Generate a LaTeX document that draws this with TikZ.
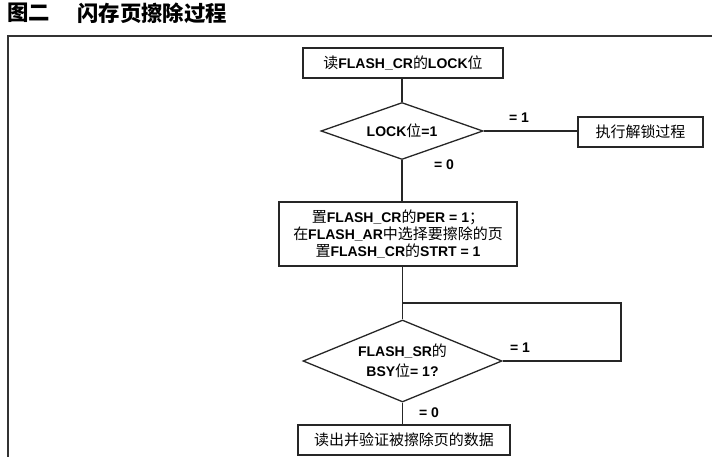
\documentclass[tikz,border=0pt]{standalone}
\usepackage{fontspec}
\setmainfont{Liberation Sans}
\newfontfamily\cjk{Noto Sans CJK SC}[Scale=1.07]
\newcommand\zh[1]{{\cjk\mdseries #1}}
\usetikzlibrary{shapes.geometric}
\begin{document}
\begin{tikzpicture}[x=1pt,y=-1pt,
  every node/.style={font=\fontsize{14}{18}\selectfont\bfseries},
  line/.style={line width=1.3pt, draw=black!85},
  stepbox/.style={draw=black!85, line width=1.3pt, rectangle, inner sep=0pt, align=center},
  decide/.style={draw=black!85, line width=1.3pt, diamond, inner sep=0pt, align=center},
  lbl/.style={inner sep=0pt}]
\useasboundingbox (0,0) rectangle (712,457);
% frame
\draw[line width=2pt, draw=black!80] (8,460) -- (8,36) -- (714,36);
% title
\node[anchor=west, inner sep=0pt, font=\fontsize{20}{22}\selectfont\bfseries] (t1) at (7,13) {{\cjk\bfseries 图二}};
\node[anchor=west, inner sep=0pt, font=\fontsize{20}{22}\selectfont\bfseries] (t2) at (77,13) {{\cjk\bfseries 闪存页擦除过程}};
% nodes
\node[stepbox, minimum width=200pt, minimum height=30pt] (b1) at (403,63) {\zh{读}FLASH\_CR\zh{的}LOCK\zh{位}};
\node[decide, minimum width=162pt, minimum height=57pt, aspect=2.84] (d1) at (402,131) {LOCK\zh{位}=1};
\node[stepbox, minimum width=125pt, minimum height=30pt] (b2) at (640.5,132) {\zh{执行解锁过程}};
\node[stepbox, minimum width=238pt, minimum height=64pt] (b3) at (398,234) {\zh{置}FLASH\_CR\zh{的}PER = 1\zh{；}\\[-1pt] \zh{在}FLASH\_AR\zh{中选择要擦除的页}\\[-1pt] \zh{置}FLASH\_CR\zh{的}STRT = 1};
\node[decide, minimum width=199pt, minimum height=82pt, aspect=2.43] (d2) at (402.5,361) {FLASH\_SR\zh{的}\\[2pt] BSY\zh{位}= 1?};
\node[stepbox, minimum width=212pt, minimum height=30pt] (b4) at (404,440) {\zh{读出并验证被擦除页的数据}};
% labels
\node[lbl] (l1) at (519,118) {= 1};
\node[lbl] (l2) at (444,165) {= 0};
\node[lbl] (l3) at (520,348) {= 1};
\node[lbl] (l4) at (429,413) {= 0};
% connectors
\coordinate (j) at (402.5,303);
\coordinate (r) at (621,303);
\draw[line] (b1.south -| d1.north) -- (d1.north);
\draw[line] (d1.east) -- (d1.east -| b2.west);
\draw[line] (d1.south) -- (d1.south |- b3.north);
\draw[line] (b3.south -| j) -- (j) -- (d2.north);
\draw[line] (d2.east) -| (r) -- (j);
\draw[line] (d2.south) -- (d2.south |- b4.north);
\end{tikzpicture}
\end{document}
